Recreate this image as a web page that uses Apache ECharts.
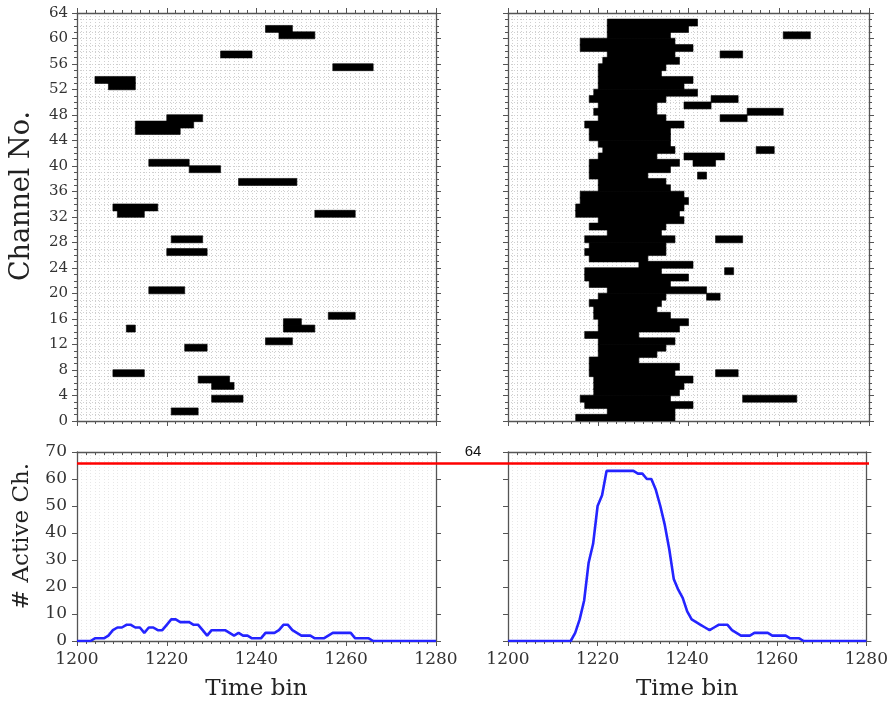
<!DOCTYPE html>
<html><head><meta charset="utf-8">
<script src="https://cdn.jsdelivr.net/npm/echarts@6/dist/echarts.min.js"></script>
<style>html,body{margin:0;padding:0;background:#fff}#c{width:891px;height:709px}</style>
</head><body><div id="c"></div>
<script>
// ---------------- data ----------------
const binStart = 1200;
const binEnd = 1280;
const timeInterval = 20;
const channelMax = 64;
const channelInterval = 4;
const countMax = 70;
const countInterval = 10;
const thresholdLine = 66;
const thresholdLabel = '64';

// [channel, startBin, endBin)
const leftRaster = [
  [61,1242,1248],[60,1245,1253],[57,1232,1239],[55,1257,1266],[53,1204,1213],[52,1207,1213],
  [47,1220,1228],[46,1213,1226],[45,1213,1223],[40,1216,1225],[39,1225,1232],[37,1236,1249],
  [33,1208,1218],[32,1209,1215],[32,1253,1262],[28,1221,1228],[26,1220,1229],[20,1216,1224],
  [16,1256,1262],[15,1246,1250],[14,1246,1253],[14,1211,1213],[12,1242,1248],[11,1224,1229],
  [7,1208,1215],[6,1227,1234],[5,1230,1235],[3,1230,1237],[1,1221,1227]
];

const rightRaster = [
  [62,1222,1242],[61,1222,1240],[60,1222,1236],[60,1261,1267],[59,1216,1237],[58,1216,1241],
  [57,1222,1237],[57,1247,1252],[56,1221,1238],[55,1220,1235],[54,1220,1234],[53,1220,1241],
  [52,1220,1239],[51,1219,1242],[50,1218,1235],[50,1245,1251],[49,1220,1233],[49,1239,1245],
  [48,1219,1233],[48,1253,1261],[47,1220,1235],[47,1247,1253],[46,1217,1239],[45,1218,1236],
  [44,1218,1236],[43,1220,1236],[42,1221,1237],[42,1255,1259],[41,1220,1233],[41,1239,1248],
  [40,1218,1238],[40,1241,1246],[39,1218,1236],[38,1218,1231],[38,1242,1244],[37,1220,1235],
  [36,1220,1236],[35,1216,1239],[34,1216,1240],[33,1215,1239],[32,1215,1238],[31,1220,1239],
  [30,1218,1235],[29,1222,1234],[28,1217,1237],[28,1246,1252],[27,1218,1235],[26,1217,1235],
  [25,1218,1231],[24,1229,1241],[23,1217,1234],[23,1248,1250],[22,1217,1240],[21,1218,1236],
  [20,1222,1244],[19,1220,1235],[19,1244,1247],[18,1218,1234],[17,1219,1233],[16,1219,1236],
  [15,1220,1240],[14,1220,1238],[13,1217,1229],[12,1220,1237],[11,1220,1235],[10,1220,1233],
  [9,1218,1229],[8,1218,1238],[7,1218,1237],[7,1246,1251],[6,1219,1241],[5,1219,1239],
  [4,1219,1238],[3,1216,1236],[3,1252,1264],[2,1217,1241],[1,1222,1237],[0,1215,1237]
];

// active channel count per time bin, 1200 ... 1280
const leftCounts = [
  0,0,0,0,1,1,1,2,4,5, 5,6,6,5,5,3,5,5,4,4,
  6,8,8,7,7,7,6,6,4,2, 4,4,4,4,3,2,3,2,2,1,
  1,1,3,3,3,4,6,6,4,3, 2,2,2,1,1,1,2,3,3,3,
  3,3,1,1,1,1,0,0,0,0, 0,0,0,0,0,0,0,0,0,0, 0
];
const rightCounts = [
  0,0,0,0,0,0,0,0,0,0, 0,0,0,0,0,3,8,15,29,36,
  50,54,63,63,63,63,63,63,63,62, 62,60,60,56,50,43,34,23,19,16,
  11,8,7,6,5,4,5,6,6,6, 4,3,2,2,2,3,3,3,3,2,
  2,2,2,1,1,1,0,0,0,0, 0,0,0,0,0,0,0,0,0,0, 0
];

// ---------------- styling ----------------
const SERIF = 'DejaVu Serif';
const AX = '#555';
const DOT = {color:'#c4c4c4', type:[1,2], width:0.8};
const DOT_FAINT = {color:'#e2e2e2', type:[1,2], width:0.8};
const plain = v => String(v);

const grids = [
  {left:77, top:13, width:359, height:408},
  {left:508, top:13, width:361, height:408},
  {left:77, top:452, width:359, height:189},
  {left:508, top:452, width:361, height:189},
  {left:77, top:452, width:792, height:189}
];

const xAxis = [], yAxis = [];
const line = {show:true, onZero:false, lineStyle:{color:AX, width:1.3}};
const panels = [];
for (let g = 0; g < 4; g++) {
  const bottomPanel = g >= 2;
  const labelled = bottomPanel;
  const p = {};
  p.x = xAxis.push({
    type:'value', gridIndex:g, min:binStart, max:binEnd, interval:timeInterval, position:'bottom',
    axisLine:line,
    axisTick:{show:true, length:5, lineStyle:{color:AX}},
    minorTick:{show:true, splitNumber:10, length:3, lineStyle:{color:AX}},
    splitLine:{show:false},
    axisLabel:{show:labelled, formatter:plain, fontFamily:SERIF, fontSize:17, color:'#333', margin:10, showMinLabel:true, showMaxLabel:true},
    name: labelled ? 'Time bin' : '', nameLocation:'middle', nameGap:37,
    nameTextStyle:{fontFamily:SERIF, fontSize:23, color:'#222'}
  }) - 1;
  xAxis.push({
    type:'value', gridIndex:g, min:binStart, max:binEnd, interval:timeInterval, position:'top',
    axisLine:line,
    axisTick:{show:true, inside:bottomPanel, length:5, lineStyle:{color:AX}},
    minorTick:{show:true, splitNumber:10, length:3, lineStyle:{color:AX}},
    splitLine:{show:false}, axisLabel:{show:false}
  });
  xAxis.push({
    type:'value', gridIndex:g, min:binStart, max:binEnd, interval:1, position:'bottom',
    axisLine:{show:false}, axisTick:{show:false}, axisLabel:{show:false},
    splitLine:{show:true, lineStyle: bottomPanel ? DOT_FAINT : DOT}
  });
  if (!bottomPanel) {
    p.y = yAxis.push({
      type:'value', gridIndex:g, min:0, max:channelMax, interval:channelInterval, position:'left',
      axisLine:line,
      axisTick:{show:true, length:5, lineStyle:{color:AX}},
      minorTick:{show:true, splitNumber:4, length:3, lineStyle:{color:AX}},
      splitLine:{show:true, lineStyle:DOT},
      minorSplitLine:{show:true, lineStyle:DOT},
      axisLabel:{show:g===0, formatter:plain, fontFamily:SERIF, fontSize:15, color:'#333', margin:9, showMinLabel:true, showMaxLabel:true}
    }) - 1;
    yAxis.push({
      type:'value', gridIndex:g, min:0, max:channelMax, interval:channelInterval, position:'right',
      axisLine:line,
      axisTick:{show:true, length:5, lineStyle:{color:AX}},
      minorTick:{show:true, splitNumber:4, length:3, lineStyle:{color:AX}},
      splitLine:{show:false}, axisLabel:{show:false}
    });
  } else {
    p.y = yAxis.push({
      type:'value', gridIndex:g, min:0, max:countMax, interval:countInterval, position:'left',
      axisLine:line,
      axisTick:{show:true, length:5, lineStyle:{color:AX}},
      splitLine:{show:false},
      axisLabel:{show:g===2, formatter:plain, fontFamily:SERIF, fontSize:17, color:'#333', margin:10, showMinLabel:true, showMaxLabel:true}
    }) - 1;
    yAxis.push({
      type:'value', gridIndex:g, min:0, max:countMax, interval:countInterval, position:'right',
      axisLine:line,
      axisTick:{show:true, length:5, lineStyle:{color:AX}},
      splitLine:{show:false}, axisLabel:{show:false}
    });
  }
  panels.push(p);
}
// overlay grid for the threshold line spanning both bottom panels
const thrX = xAxis.push({type:'value', gridIndex:4, min:0, max:1, show:false}) - 1;
const thrY = yAxis.push({type:'value', gridIndex:4, min:0, max:countMax, show:false}) - 1;

function renderSeg(params, api) {
  const ch = api.value(2);
  const p0 = api.coord([api.value(0), ch + 1]);
  const p1 = api.coord([api.value(1), ch]);
  return {
    type:'rect',
    shape:{x:p0[0], y:p0[1] - 0.3, width:p1[0]-p0[0], height:p1[1]-p0[1] + 0.6},
    style:{fill:'#000', stroke:'#000', lineWidth:0.6}
  };
}

function rasterSeries(rows, p) {
  return {
    type:'custom', xAxisIndex:p.x, yAxisIndex:p.y, clip:true, z:10,
    renderItem:renderSeg,
    encode:{x:[0,1], y:2},
    data: rows.map(r => [r[1], r[2], r[0]])
  };
}
function countSeries(vals, p) {
  return {
    type:'line', xAxisIndex:p.x, yAxisIndex:p.y, showSymbol:false, symbol:'none', z:4,
    lineStyle:{color:'#2424ff', width:2.6},
    data: vals.map((v, i) => [binStart + i, v])
  };
}

const option = {
  animation:false,
  backgroundColor:'#fff',
  grid:grids,
  xAxis, yAxis,
  series:[
    rasterSeries(leftRaster, panels[0]),
    rasterSeries(rightRaster, panels[1]),
    countSeries(leftCounts, panels[2]),
    countSeries(rightCounts, panels[3]),
    {
      type:'line', xAxisIndex:thrX, yAxisIndex:thrY, data:[], z:5,
      markLine:{
        silent:true, symbol:'none', animation:false,
        lineStyle:{color:'#ff0000', width:2.6, type:'solid'},
        label:{show:true, position:'insideMiddleTop', formatter:thresholdLabel, distance:3,
               fontFamily:'Liberation Sans', fontSize:15, color:'#111'},
        data:[{yAxis:thresholdLine}]
      }
    }
  ],
  graphic:[
    {type:'text', x:22, y:196, rotation:Math.PI/2,
     style:{text:'Channel No.', fontFamily:SERIF, fontSize:27, fill:'#222', align:'center', verticalAlign:'middle'}},
    {type:'text', x:22, y:536, rotation:Math.PI/2,
     style:{text:'# Active Ch.', fontFamily:SERIF, fontSize:23, fill:'#222', align:'center', verticalAlign:'middle'}}
  ]
};

const chart = echarts.init(document.getElementById('c'), null, {renderer:'canvas'});
chart.setOption(option);
</script>
</body></html>
